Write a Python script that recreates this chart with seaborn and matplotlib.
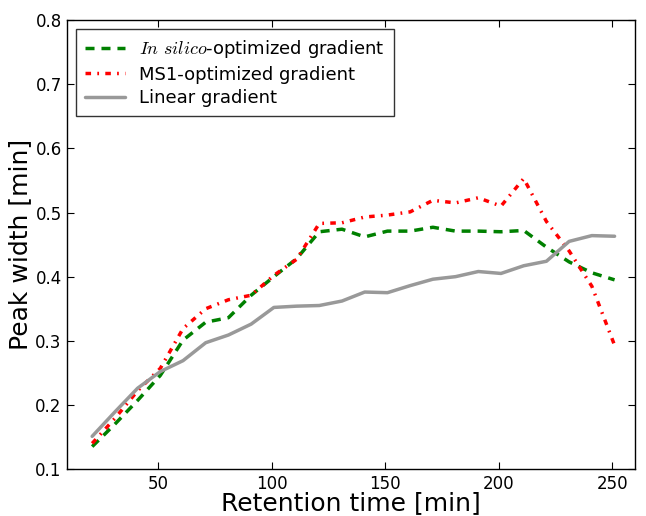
import matplotlib
matplotlib.use("Agg")
import matplotlib.pyplot as plt
import seaborn as sns
import pandas as pd

sns.set_style("white")
plt.rcParams['font.family'] = ['DejaVu Sans']
plt.rcParams['mathtext.fontset'] = 'cm'
plt.rcParams['text.color'] = 'black'
plt.rcParams['axes.labelcolor'] = 'black'
plt.rcParams['xtick.color'] = 'black'
plt.rcParams['ytick.color'] = 'black'

# retention time bins [min]
retention_time = [21, 31, 41, 51, 61, 71, 81, 91, 101, 111, 121, 131,
                  141, 151, 161, 171, 181, 191, 201, 211, 221, 231, 241, 251]

# peak widths [min]
in_silico = [0.135, 0.170, 0.207, 0.246, 0.301, 0.329, 0.336, 0.371, 0.400, 0.428, 0.470, 0.474,
             0.462, 0.471, 0.471, 0.477, 0.471, 0.471, 0.470, 0.472, 0.446, 0.423, 0.406, 0.395]
ms1 = [0.140, 0.179, 0.222, 0.257, 0.319, 0.350, 0.364, 0.371, 0.402, 0.427, 0.483, 0.484,
       0.493, 0.496, 0.501, 0.519, 0.515, 0.523, 0.510, 0.553, 0.486, 0.440, 0.385, 0.293]
linear = [0.151, 0.189, 0.226, 0.252, 0.269, 0.297, 0.309, 0.326, 0.352, 0.354, 0.355, 0.362,
          0.376, 0.375, 0.386, 0.396, 0.400, 0.408, 0.405, 0.417, 0.424, 0.455, 0.464, 0.463]

df = pd.DataFrame({'time': retention_time, 'in_silico': in_silico,
                   'ms1': ms1, 'linear': linear})

fig = plt.figure(figsize=(6.46, 5.16), dpi=100)
ax = fig.add_axes([0.104, 0.091, 0.879, 0.870])

sns.lineplot(data=df, x='time', y='in_silico', ax=ax, color='#008000',
             linewidth=2.5, dashes=(2.6, 2.0), label=r'$In\ silico$-optimized gradient')
sns.lineplot(data=df, x='time', y='ms1', ax=ax, color='#ff0000',
             linewidth=2.5, dashes=(1.6, 1.8, 0.5, 1.8), label='MS1-optimized gradient')
sns.lineplot(data=df, x='time', y='linear', ax=ax, color='#999999',
             linestyle='-', linewidth=2.5, label='Linear gradient')

ax.set_xlim(10, 260)
ax.set_ylim(0.1, 0.8)
ax.set_xticks([50, 100, 150, 200, 250])
ax.set_yticks([0.1, 0.2, 0.3, 0.4, 0.5, 0.6, 0.7, 0.8])
ax.set_xlabel('Retention time [min]', fontsize=18, labelpad=-1)
ax.set_ylabel('Peak width [min]', fontsize=18, labelpad=2)
ax.tick_params(direction='in', length=5, width=0.8, labelsize=12,
               top=True, right=True, bottom=True, left=True, pad=4)
for s in ax.spines.values():
    s.set_color('black')
    s.set_linewidth(1.0)

leg = ax.legend(loc='upper left', fontsize=13, fancybox=False, frameon=True,
                handlelength=2.2, borderpad=0.5, labelspacing=0.3)
leg.get_frame().set_edgecolor('black')
leg.get_frame().set_linewidth(1.0)

fig.savefig('out.png', dpi=100)
